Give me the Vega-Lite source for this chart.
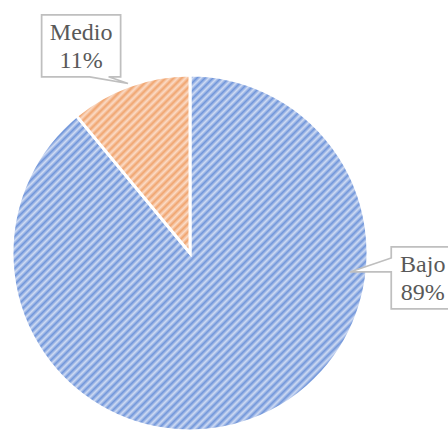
{
  "$schema": "https://vega.github.io/schema/vega-lite/v6.json",
  "width": 356,
  "height": 356,
  "autosize": {"type": "none"},
  "padding": {"left": 12, "top": 75, "right": 80, "bottom": 0},
  "background": "white",
  "config": {"view": {"stroke": null}},
  "data": {"values": [
    {"categoria": "Bajo", "porcentaje": 89},
    {"categoria": "Medio", "porcentaje": 11}
  ]},
  "transform": [
    {"stack": "porcentaje", "groupby": [], "sort": [{"field": "categoria", "order": "ascending"}], "as": ["t0", "t1"]},
    {"calculate": "2*PI*(datum.t0+0.3*(datum.t1-datum.t0))/100", "as": "ang"},
    {"calculate": "1.315*sin(datum.ang)", "as": "lx"},
    {"calculate": "1.315*cos(datum.ang)", "as": "ly"},
    {"calculate": "datum.categoria + '\\n' + datum.porcentaje + '%'", "as": "lab"}
  ],
  "layer": [
    {
      "transform": [{"filter": "datum.categoria == 'Bajo'"}],
      "mark": {"type": "arc", "stroke": "white", "strokeWidth": 3,
        "fill": {"gradient": "linear", "x1": 0, "y1": 0, "x2": 1.124, "y2": 1.124, "stops": [
{"offset":0,"color":"#cfdbf3"},{"offset":0.005,"color":"#7196da"},{"offset":0.01,"color":"#cfdbf3"},{"offset":0.015,"color":"#7196da"},{"offset":0.02,"color":"#cfdbf3"},{"offset":0.025,"color":"#7196da"},{"offset":0.03,"color":"#cfdbf3"},{"offset":0.035,"color":"#7196da"},{"offset":0.04,"color":"#cfdbf3"},{"offset":0.045,"color":"#7196da"},
{"offset":0.05,"color":"#cfdbf3"},{"offset":0.055,"color":"#7196da"},{"offset":0.06,"color":"#cfdbf3"},{"offset":0.065,"color":"#7196da"},{"offset":0.07,"color":"#cfdbf3"},{"offset":0.075,"color":"#7196da"},{"offset":0.08,"color":"#cfdbf3"},{"offset":0.085,"color":"#7196da"},{"offset":0.09,"color":"#cfdbf3"},{"offset":0.095,"color":"#7196da"},
{"offset":0.1,"color":"#cfdbf3"},{"offset":0.105,"color":"#7196da"},{"offset":0.11,"color":"#cfdbf3"},{"offset":0.115,"color":"#7196da"},{"offset":0.12,"color":"#cfdbf3"},{"offset":0.125,"color":"#7196da"},{"offset":0.13,"color":"#cfdbf3"},{"offset":0.135,"color":"#7196da"},{"offset":0.14,"color":"#cfdbf3"},{"offset":0.145,"color":"#7196da"},
{"offset":0.15,"color":"#cfdbf3"},{"offset":0.155,"color":"#7196da"},{"offset":0.16,"color":"#cfdbf3"},{"offset":0.165,"color":"#7196da"},{"offset":0.17,"color":"#cfdbf3"},{"offset":0.175,"color":"#7196da"},{"offset":0.18,"color":"#cfdbf3"},{"offset":0.185,"color":"#7196da"},{"offset":0.19,"color":"#cfdbf3"},{"offset":0.195,"color":"#7196da"},
{"offset":0.2,"color":"#cfdbf3"},{"offset":0.205,"color":"#7196da"},{"offset":0.21,"color":"#cfdbf3"},{"offset":0.215,"color":"#7196da"},{"offset":0.22,"color":"#cfdbf3"},{"offset":0.225,"color":"#7196da"},{"offset":0.23,"color":"#cfdbf3"},{"offset":0.235,"color":"#7196da"},{"offset":0.24,"color":"#cfdbf3"},{"offset":0.245,"color":"#7196da"},
{"offset":0.25,"color":"#cfdbf3"},{"offset":0.255,"color":"#7196da"},{"offset":0.26,"color":"#cfdbf3"},{"offset":0.265,"color":"#7196da"},{"offset":0.27,"color":"#cfdbf3"},{"offset":0.275,"color":"#7196da"},{"offset":0.28,"color":"#cfdbf3"},{"offset":0.285,"color":"#7196da"},{"offset":0.29,"color":"#cfdbf3"},{"offset":0.295,"color":"#7196da"},
{"offset":0.3,"color":"#cfdbf3"},{"offset":0.305,"color":"#7196da"},{"offset":0.31,"color":"#cfdbf3"},{"offset":0.315,"color":"#7196da"},{"offset":0.32,"color":"#cfdbf3"},{"offset":0.325,"color":"#7196da"},{"offset":0.33,"color":"#cfdbf3"},{"offset":0.335,"color":"#7196da"},{"offset":0.34,"color":"#cfdbf3"},{"offset":0.345,"color":"#7196da"},
{"offset":0.35,"color":"#cfdbf3"},{"offset":0.355,"color":"#7196da"},{"offset":0.36,"color":"#cfdbf3"},{"offset":0.365,"color":"#7196da"},{"offset":0.37,"color":"#cfdbf3"},{"offset":0.375,"color":"#7196da"},{"offset":0.38,"color":"#cfdbf3"},{"offset":0.385,"color":"#7196da"},{"offset":0.39,"color":"#cfdbf3"},{"offset":0.395,"color":"#7196da"},
{"offset":0.4,"color":"#cfdbf3"},{"offset":0.405,"color":"#7196da"},{"offset":0.41,"color":"#cfdbf3"},{"offset":0.415,"color":"#7196da"},{"offset":0.42,"color":"#cfdbf3"},{"offset":0.425,"color":"#7196da"},{"offset":0.43,"color":"#cfdbf3"},{"offset":0.435,"color":"#7196da"},{"offset":0.44,"color":"#cfdbf3"},{"offset":0.445,"color":"#7196da"},
{"offset":0.45,"color":"#cfdbf3"},{"offset":0.455,"color":"#7196da"},{"offset":0.46,"color":"#cfdbf3"},{"offset":0.465,"color":"#7196da"},{"offset":0.47,"color":"#cfdbf3"},{"offset":0.475,"color":"#7196da"},{"offset":0.48,"color":"#cfdbf3"},{"offset":0.485,"color":"#7196da"},{"offset":0.49,"color":"#cfdbf3"},{"offset":0.495,"color":"#7196da"},
{"offset":0.5,"color":"#cfdbf3"},{"offset":0.505,"color":"#7196da"},{"offset":0.51,"color":"#cfdbf3"},{"offset":0.515,"color":"#7196da"},{"offset":0.52,"color":"#cfdbf3"},{"offset":0.525,"color":"#7196da"},{"offset":0.53,"color":"#cfdbf3"},{"offset":0.535,"color":"#7196da"},{"offset":0.54,"color":"#cfdbf3"},{"offset":0.545,"color":"#7196da"},
{"offset":0.55,"color":"#cfdbf3"},{"offset":0.555,"color":"#7196da"},{"offset":0.56,"color":"#cfdbf3"},{"offset":0.565,"color":"#7196da"},{"offset":0.57,"color":"#cfdbf3"},{"offset":0.575,"color":"#7196da"},{"offset":0.58,"color":"#cfdbf3"},{"offset":0.585,"color":"#7196da"},{"offset":0.59,"color":"#cfdbf3"},{"offset":0.595,"color":"#7196da"},
{"offset":0.6,"color":"#cfdbf3"},{"offset":0.605,"color":"#7196da"},{"offset":0.61,"color":"#cfdbf3"},{"offset":0.615,"color":"#7196da"},{"offset":0.62,"color":"#cfdbf3"},{"offset":0.625,"color":"#7196da"},{"offset":0.63,"color":"#cfdbf3"},{"offset":0.635,"color":"#7196da"},{"offset":0.64,"color":"#cfdbf3"},{"offset":0.645,"color":"#7196da"},
{"offset":0.65,"color":"#cfdbf3"},{"offset":0.655,"color":"#7196da"},{"offset":0.66,"color":"#cfdbf3"},{"offset":0.665,"color":"#7196da"},{"offset":0.67,"color":"#cfdbf3"},{"offset":0.675,"color":"#7196da"},{"offset":0.68,"color":"#cfdbf3"},{"offset":0.685,"color":"#7196da"},{"offset":0.69,"color":"#cfdbf3"},{"offset":0.695,"color":"#7196da"},
{"offset":0.7,"color":"#cfdbf3"},{"offset":0.705,"color":"#7196da"},{"offset":0.71,"color":"#cfdbf3"},{"offset":0.715,"color":"#7196da"},{"offset":0.72,"color":"#cfdbf3"},{"offset":0.725,"color":"#7196da"},{"offset":0.73,"color":"#cfdbf3"},{"offset":0.735,"color":"#7196da"},{"offset":0.74,"color":"#cfdbf3"},{"offset":0.745,"color":"#7196da"},
{"offset":0.75,"color":"#cfdbf3"},{"offset":0.755,"color":"#7196da"},{"offset":0.76,"color":"#cfdbf3"},{"offset":0.765,"color":"#7196da"},{"offset":0.77,"color":"#cfdbf3"},{"offset":0.775,"color":"#7196da"},{"offset":0.78,"color":"#cfdbf3"},{"offset":0.785,"color":"#7196da"},{"offset":0.79,"color":"#cfdbf3"},{"offset":0.795,"color":"#7196da"},
{"offset":0.8,"color":"#cfdbf3"},{"offset":0.805,"color":"#7196da"},{"offset":0.81,"color":"#cfdbf3"},{"offset":0.815,"color":"#7196da"},{"offset":0.82,"color":"#cfdbf3"},{"offset":0.825,"color":"#7196da"},{"offset":0.83,"color":"#cfdbf3"},{"offset":0.835,"color":"#7196da"},{"offset":0.84,"color":"#cfdbf3"},{"offset":0.845,"color":"#7196da"},
{"offset":0.85,"color":"#cfdbf3"},{"offset":0.855,"color":"#7196da"},{"offset":0.86,"color":"#cfdbf3"},{"offset":0.865,"color":"#7196da"},{"offset":0.87,"color":"#cfdbf3"},{"offset":0.875,"color":"#7196da"},{"offset":0.88,"color":"#cfdbf3"},{"offset":0.885,"color":"#7196da"},{"offset":0.89,"color":"#cfdbf3"},{"offset":0.895,"color":"#7196da"},
{"offset":0.9,"color":"#cfdbf3"}
        ]}},
      "encoding": {
        "theta": {"field": "t0", "type": "quantitative", "stack": null, "scale": {"domain": [0, 100]}},
        "theta2": {"field": "t1"}
      }
    },
    {
      "transform": [{"filter": "datum.categoria == 'Medio'"}],
      "mark": {"type": "arc", "stroke": "white", "strokeWidth": 3,
        "fill": {"gradient": "linear", "x1": 0, "y1": 0, "x2": 2.04, "y2": 3.2, "stops": [
{"offset":0,"color":"#fbdcc8"},{"offset":0.005,"color":"#f0a46e"},{"offset":0.01,"color":"#fbdcc8"},{"offset":0.015,"color":"#f0a46e"},{"offset":0.02,"color":"#fbdcc8"},{"offset":0.025,"color":"#f0a46e"},{"offset":0.03,"color":"#fbdcc8"},{"offset":0.035,"color":"#f0a46e"},{"offset":0.04,"color":"#fbdcc8"},{"offset":0.045,"color":"#f0a46e"},
{"offset":0.05,"color":"#fbdcc8"},{"offset":0.055,"color":"#f0a46e"},{"offset":0.06,"color":"#fbdcc8"},{"offset":0.065,"color":"#f0a46e"},{"offset":0.07,"color":"#fbdcc8"},{"offset":0.075,"color":"#f0a46e"},{"offset":0.08,"color":"#fbdcc8"},{"offset":0.085,"color":"#f0a46e"},{"offset":0.09,"color":"#fbdcc8"},{"offset":0.095,"color":"#f0a46e"},
{"offset":0.1,"color":"#fbdcc8"},{"offset":0.105,"color":"#f0a46e"},{"offset":0.11,"color":"#fbdcc8"},{"offset":0.115,"color":"#f0a46e"},{"offset":0.12,"color":"#fbdcc8"},{"offset":0.125,"color":"#f0a46e"},{"offset":0.13,"color":"#fbdcc8"},{"offset":0.135,"color":"#f0a46e"},{"offset":0.14,"color":"#fbdcc8"},{"offset":0.145,"color":"#f0a46e"},
{"offset":0.15,"color":"#fbdcc8"},{"offset":0.155,"color":"#f0a46e"},{"offset":0.16,"color":"#fbdcc8"},{"offset":0.165,"color":"#f0a46e"},{"offset":0.17,"color":"#fbdcc8"},{"offset":0.175,"color":"#f0a46e"},{"offset":0.18,"color":"#fbdcc8"},{"offset":0.185,"color":"#f0a46e"},{"offset":0.19,"color":"#fbdcc8"},{"offset":0.195,"color":"#f0a46e"},
{"offset":0.2,"color":"#fbdcc8"},{"offset":0.205,"color":"#f0a46e"},{"offset":0.21,"color":"#fbdcc8"},{"offset":0.215,"color":"#f0a46e"},{"offset":0.22,"color":"#fbdcc8"},{"offset":0.225,"color":"#f0a46e"},{"offset":0.23,"color":"#fbdcc8"},{"offset":0.235,"color":"#f0a46e"},{"offset":0.24,"color":"#fbdcc8"},{"offset":0.245,"color":"#f0a46e"},
{"offset":0.25,"color":"#fbdcc8"},{"offset":0.255,"color":"#f0a46e"},{"offset":0.26,"color":"#fbdcc8"},{"offset":0.265,"color":"#f0a46e"},{"offset":0.27,"color":"#fbdcc8"},{"offset":0.275,"color":"#f0a46e"},{"offset":0.28,"color":"#fbdcc8"},{"offset":0.285,"color":"#f0a46e"},{"offset":0.29,"color":"#fbdcc8"},{"offset":0.295,"color":"#f0a46e"},
{"offset":0.3,"color":"#fbdcc8"},{"offset":0.305,"color":"#f0a46e"},{"offset":0.31,"color":"#fbdcc8"},{"offset":0.315,"color":"#f0a46e"},{"offset":0.32,"color":"#fbdcc8"},{"offset":0.325,"color":"#f0a46e"},{"offset":0.33,"color":"#fbdcc8"},{"offset":0.335,"color":"#f0a46e"},{"offset":0.34,"color":"#fbdcc8"},{"offset":0.345,"color":"#f0a46e"},
{"offset":0.35,"color":"#fbdcc8"},{"offset":0.355,"color":"#f0a46e"},{"offset":0.36,"color":"#fbdcc8"},{"offset":0.365,"color":"#f0a46e"},{"offset":0.37,"color":"#fbdcc8"}
        ]}},
      "encoding": {
        "theta": {"field": "t0", "type": "quantitative", "stack": null, "scale": {"domain": [0, 100]}},
        "theta2": {"field": "t1"}
      }
    },
    {
      "mark": {"type": "point", "filled": true, "fill": "white", "stroke": "#bfbfbf", "strokeWidth": 1.75, "opacity": 1, "fillOpacity": 1, "strokeOpacity": 1, "size": 4},
      "encoding": {
        "x": {"field": "lx", "type": "quantitative", "scale": {"domain": [-1, 1], "nice": false, "zero": false}, "axis": null},
        "y": {"field": "ly", "type": "quantitative", "scale": {"domain": [-1, 1], "nice": false, "zero": false}, "axis": null},
        "shape": {"field": "categoria", "type": "nominal", "legend": null, "scale": {"domain": ["Bajo", "Medio"], "range": [
          "M-31.5,-31H31.5V31H-31.5V-6L-72.7,-6L-31.5,-20Z",
          "M-39.5,-31H39.5V31H27.5L46.9,37.7L8.5,31H-39.5Z"
        ]}}
      }
    },
    {
      "mark": {"type": "text", "font": "Liberation Serif", "fontSize": 24, "color": "#595959", "lineBreak": "\n", "lineHeight": 28, "align": "center", "baseline": "middle", "dy": -13},
      "encoding": {
        "x": {"field": "lx", "type": "quantitative", "scale": {"domain": [-1, 1], "nice": false, "zero": false}, "axis": null},
        "y": {"field": "ly", "type": "quantitative", "scale": {"domain": [-1, 1], "nice": false, "zero": false}, "axis": null},
        "text": {"field": "lab"}
      }
    }
  ]
}
